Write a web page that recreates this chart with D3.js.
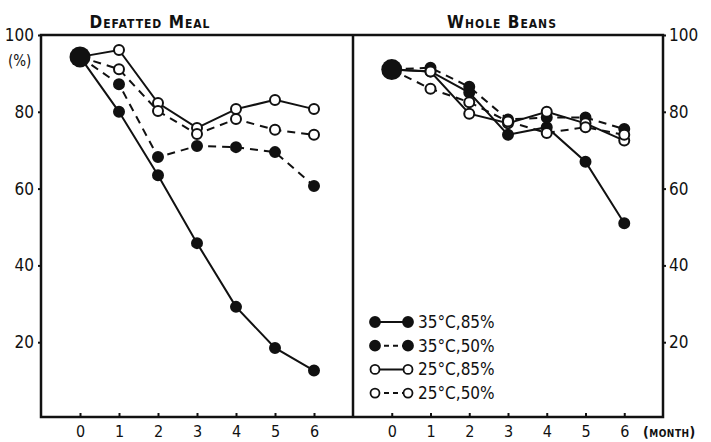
<!DOCTYPE html>
<html>
<head>
<meta charset="utf-8">
<script src="https://cdn.jsdelivr.net/npm/d3@7"></script>
<style>
  body { margin: 0; background: #fff; }
  svg { display: block; }
  .tick text { font-family: "DejaVu Sans Condensed", sans-serif; font-size: 17px; fill: #111; }
  .x-axis .tick text { font-size: 16px; }
  .tick line { stroke: #111; stroke-width: 2; }
  .title { font-family: "DejaVu Sans Condensed", sans-serif; font-weight: bold; font-variant: small-caps; font-size: 17px; letter-spacing: 1px; fill: #111; }
  .legend text { font-family: "DejaVu Sans Condensed", sans-serif; font-size: 17px; fill: #111; }
</style>
</head>
<body>
<div class="chart"></div>
<script>
// Data (germination / viability %, by month)
var months = [0, 1, 2, 3, 4, 5, 6];
var yTicks = [20, 40, 60, 80, 100];
var seriesNames = ["35°C,85%", "35°C,50%", "25°C,85%", "25°C,50%"];

var mealHot85 = [94.3, 80, 63.5, 45.8, 29.2, 18.5, 12.6];
var mealHot50 = [94.3, 87.2, 68.2, 71.1, 70.8, 69.5, 60.7];
var mealCool85 = [94.3, 96.1, 82.3, 75.8, 80.7, 83.1, 80.7];
var mealCool50 = [94.3, 91.1, 80.2, 74.2, 78.1, 75.3, 74];

var beanHot85 = [91, 90.5, 85, 74, 76, 67, 51];
var beanHot50 = [91, 91.5, 86.5, 78, 78.5, 78.5, 75.5];
var beanCool85 = [91, 90.5, 79.5, 77, 80, 77, 72.5];
var beanCool50 = [91, 86, 82.5, 77.5, 74.5, 76, 74];

// series styles: filled / dashed
var styles = [
  { filled: true, dash: null },
  { filled: true, dash: "8,6" },
  { filled: false, dash: null },
  { filled: false, dash: "8,6" }
];

var svgWidth = 711;
var svgHeight = 442;

var svg = d3.select(".chart")
  .append("svg")
  .attr("width", svgWidth)
  .attr("height", svgHeight);

var frameLeft = 41, frameMid = 353, frameRight = 663;
var frameTop = 35, frameBottom = 417;

var yScale = d3.scaleLinear().domain([0, 100]).range([419, 35]);
var xLeft = d3.scaleLinear().domain([-1, 7]).range([frameLeft, frameMid]);
var xRight = d3.scaleLinear().domain([-1, 7]).range([frameMid, frameRight]);

// frame
svg.append("rect")
  .attr("x", frameLeft).attr("y", frameTop)
  .attr("width", frameRight - frameLeft).attr("height", frameBottom - frameTop)
  .attr("fill", "none").attr("stroke", "#111").attr("stroke-width", 2.5);
svg.append("line")
  .attr("x1", frameMid).attr("x2", frameMid)
  .attr("y1", frameTop).attr("y2", frameBottom)
  .attr("stroke", "#111").attr("stroke-width", 2.5);

// axes
var leftAxis = d3.axisLeft(yScale).tickValues(yTicks).tickSize(3).tickPadding(4);
var rightAxis = d3.axisRight(yScale).tickValues(yTicks).tickSize(3).tickPadding(3);

svg.append("g").attr("transform", `translate(${frameLeft},0)`).call(leftAxis)
  .call(g => g.select(".domain").remove());
svg.append("g").attr("transform", `translate(${frameRight},0)`).call(rightAxis)
  .call(g => g.select(".domain").remove());

svg.append("g").attr("class", "x-axis").attr("transform", `translate(0,${frameBottom})`)
  .call(d3.axisBottom(xLeft).tickValues(months).tickSizeInner(-4).tickSizeOuter(0).tickPadding(9))
  .call(g => g.select(".domain").remove());
svg.append("g").attr("class", "x-axis").attr("transform", `translate(0,${frameBottom})`)
  .call(d3.axisBottom(xRight).tickValues(months).tickSizeInner(-4).tickSizeOuter(0).tickPadding(9))
  .call(g => g.select(".domain").remove());

// unit labels
svg.append("text")
  .attr("x", 8).attr("y", 66)
  .attr("font-family", "DejaVu Sans Condensed, sans-serif")
  .attr("font-size", 15).attr("fill", "#111")
  .text("(%)");

svg.append("text")
  .attr("x", 643).attr("y", 437)
  .attr("class", "title")
  .style("font-size", "14px")
  .style("letter-spacing", "0.5px")
  .text("(month)");

// titles
svg.append("text").attr("class", "title")
  .attr("x", 150).attr("y", 28).attr("text-anchor", "middle")
  .text("Defatted Meal");
svg.append("text").attr("class", "title")
  .attr("x", 502).attr("y", 28).attr("text-anchor", "middle")
  .text("Whole Beans");

function drawPanel(x, data) {
  var panel = svg.append("g");
  var line = d3.line()
    .x((d, i) => x(months[i]))
    .y(d => yScale(d));

  data.forEach(function(values, s) {
    panel.append("path")
      .datum(values)
      .attr("d", line)
      .attr("fill", "none")
      .attr("stroke", "#111")
      .attr("stroke-width", 2)
      .attr("stroke-dasharray", styles[s].dash);
  });

  data.forEach(function(values, s) {
    panel.selectAll(null)
      .data(values.slice(1))
      .enter()
      .append("circle")
      .attr("cx", (d, i) => x(months[i + 1]))
      .attr("cy", d => yScale(d))
      .attr("r", 5)
      .attr("fill", styles[s].filled ? "#111" : "#fff")
      .attr("stroke", "#111")
      .attr("stroke-width", 2);
  });

  // common starting point
  panel.append("circle")
    .attr("cx", x(0))
    .attr("cy", yScale(data[0][0]))
    .attr("r", 10.5)
    .attr("fill", "#111");
}

drawPanel(xLeft, [mealHot85, mealHot50, mealCool85, mealCool50]);
drawPanel(xRight, [beanHot85, beanHot50, beanCool85, beanCool50]);

// legend
var legend = svg.append("g").attr("class", "legend");
seriesNames.forEach(function(name, i) {
  var ly = 322 + i * 23.7;
  legend.append("line")
    .attr("x1", 375).attr("x2", 408)
    .attr("y1", ly).attr("y2", ly)
    .attr("stroke", "#111").attr("stroke-width", 2)
    .attr("stroke-dasharray", styles[i].dash ? "5,4" : null);
  [375, 408].forEach(function(cx) {
    legend.append("circle")
      .attr("cx", cx).attr("cy", ly).attr("r", styles[i].filled ? 5 : 4.5)
      .attr("fill", styles[i].filled ? "#111" : "#fff")
      .attr("stroke", "#111").attr("stroke-width", 1.8);
  });
  legend.append("text")
    .attr("x", 418).attr("y", ly + 6)
    .text(name);
});
</script>
</body>
</html>
